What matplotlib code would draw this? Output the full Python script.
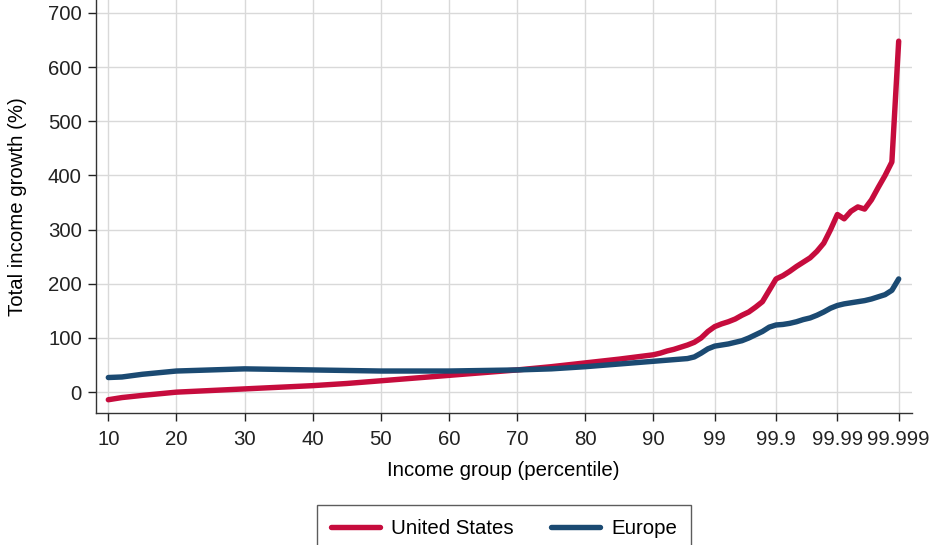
import matplotlib.pyplot as plt

plt.rcParams['font.family'] = ['Liberation Sans', 'DejaVu Sans']

# percentiles (generalized: 10..99, then 99.1..99.9, 99.91..99.99, 99.991..99.999)
percentiles = [10, 12, 15, 20, 25, 30, 35, 40, 45, 50, 55, 60, 65, 70, 75, 80, 85,
               90, 91, 92, 93, 94, 95, 96, 97, 98, 99,
               99.1, 99.2, 99.3, 99.4, 99.5, 99.6, 99.7, 99.8, 99.9,
               99.91, 99.92, 99.93, 99.94, 99.95, 99.96, 99.97, 99.98, 99.99,
               99.991, 99.992, 99.993, 99.994, 99.995, 99.996, 99.997, 99.998, 99.999]

us_growth = [-14, -10, -6, 0, 3, 6, 9, 12, 16, 21, 26, 31, 36, 41, 47, 54, 61,
             69, 72, 76, 79, 83, 87, 92, 100, 112, 121,
             126, 130, 135, 142, 148, 157, 167, 188, 209,
             215, 223, 232, 240, 248, 260, 275, 300, 328,
             320, 334, 342, 338, 355, 378, 400, 425, 648]

europe_growth = [27, 28, 33, 39, 41, 43, 42, 41, 40, 39, 39, 39, 40, 41, 43, 47, 52,
                 57, 58, 59, 60, 61, 62, 65, 72, 80, 85,
                 87, 89, 92, 95, 100, 106, 112, 120, 124,
                 125, 127, 130, 134, 137, 142, 148, 155, 160,
                 163, 165, 167, 169, 172, 176, 180, 188, 209]

tick_labels = ["10", "20", "30", "40", "50", "60", "70", "80", "90",
               "99", "99.9", "99.99", "99.999"]
tick_values = [10, 20, 30, 40, 50, 60, 70, 80, 90, 99, 99.9, 99.99, 99.999]


def to_axis(p):
    # stretch the top tail so each extra "9" takes the same room as 90 -> 99
    if p <= 99:
        return p
    if p <= 99.9:
        return 99 + (p - 99) * 10
    if p <= 99.99:
        return 108 + (p - 99.9) * 100
    return 117 + (p - 99.99) * 1000


xs = [to_axis(p) for p in percentiles]

fig = plt.figure(figsize=(9.31, 5.45), dpi=100)
ax = fig.add_axes([0.1028, 0.2417, 0.8764, 0.7583])

ax.plot(xs, us_growth, color='#C60C3D', lw=3.9, label='United States',
        solid_capstyle='round', solid_joinstyle='round')
ax.plot(xs, europe_growth, color='#1B4A72', lw=3.9, label='Europe',
        solid_capstyle='round', solid_joinstyle='round')

ax.set_xlim(8.15, 127.9)
ax.set_ylim(-39, 724)
ax.set_xticks([to_axis(v) for v in tick_values])
ax.set_xticklabels(tick_labels)
ax.set_yticks(range(0, 701, 100))

ax.grid(True, color='#d9d9d9', lw=1)
ax.set_axisbelow(True)
for side in ['top', 'right']:
    ax.spines[side].set_visible(False)
for side in ['left', 'bottom']:
    ax.spines[side].set_color('#333333')
    ax.spines[side].set_linewidth(1)

fs = 14.7
ax.tick_params(axis='both', labelsize=fs, colors='#222222', length=6, width=1)
ax.tick_params(axis='x', pad=6)
ax.tick_params(axis='y', pad=4)

ax.set_xlabel("Income group (percentile)", fontsize=fs, labelpad=9)
ax.set_ylabel("Total income growth (%)", fontsize=fs, labelpad=15)

# legend box runs off the bottom edge, as in the original
leg = fig.legend(loc='upper center', bbox_to_anchor=(504 / 931, 1 - 505 / 545),
                 ncol=2, frameon=True, fancybox=False, fontsize=fs,
                 handlelength=2.4, handletextpad=0.55, columnspacing=1.8,
                 borderpad=0.7, borderaxespad=0)
leg.get_frame().set_edgecolor('#333333')
leg.get_frame().set_linewidth(1)

plt.savefig("out.png", dpi=100)
